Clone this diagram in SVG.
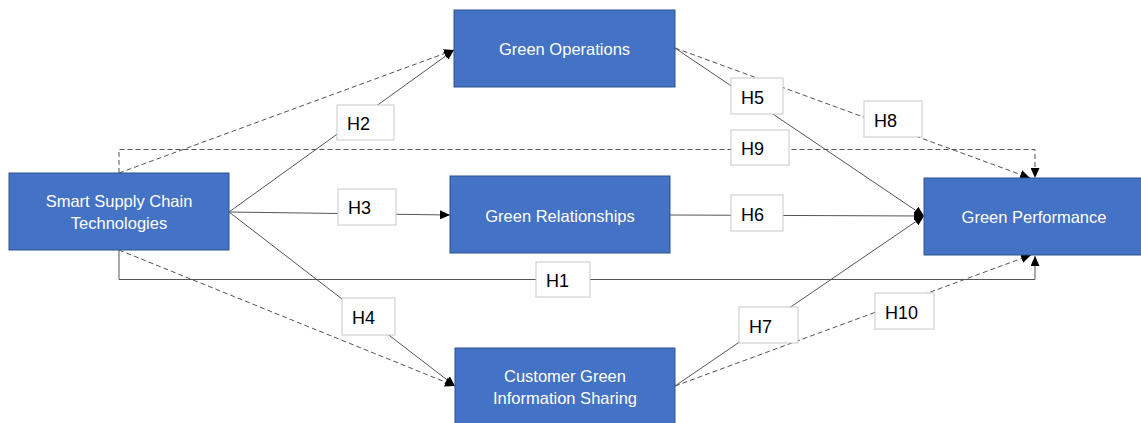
<svg xmlns="http://www.w3.org/2000/svg" width="1141" height="423" viewBox="0 0 1141 423">
  <style>
    .node rect { fill: #4472C4; stroke: #2F528F; stroke-width: 1; }
    .node text { fill: #FFFFFF; font-family: "Liberation Sans", Arial, sans-serif; font-size: 16.5px; text-anchor: middle; }
    .link { fill: none; stroke: #555555; stroke-width: 1; }
    .dash { stroke-dasharray: 5 3; }
    .tag rect { fill: #FFFFFF; stroke: #C8C8C8; stroke-width: 1; }
    .tag text { fill: #000000; font-family: "Liberation Sans", Arial, sans-serif; font-size: 18px; }
  </style>
  <defs>
    <marker id="arrow" markerUnits="userSpaceOnUse" markerWidth="11" markerHeight="9" refX="10" refY="4.5" orient="auto">
      <path d="M0,0 L10,4.5 L0,9 z" fill="#000000"/>
    </marker>
  </defs>

  <rect width="1141" height="423" fill="#FFFFFF"/>

  <!-- connectors -->
  <g id="connectors">
    <!-- H1: direct, elbow below -->
    <path class="link" d="M119,250 V279.5 H1035 V256" marker-end="url(#arrow)"/>
    <!-- H9: indirect, elbow above -->
    <path class="link dash" d="M119,173 V149.5 H1035 V178" marker-end="url(#arrow)"/>
    <!-- H2 -->
    <path class="link" d="M229,212 L454,50" marker-end="url(#arrow)"/>
    <path class="link dash" d="M119,173 L454,50" marker-end="url(#arrow)"/>
    <!-- H3 -->
    <path class="link" d="M229,212 L450,215" marker-end="url(#arrow)"/>
    <!-- H4 -->
    <path class="link" d="M229,212 L455,386" marker-end="url(#arrow)"/>
    <path class="link dash" d="M119,250 L455,386" marker-end="url(#arrow)"/>
    <!-- H5 / H8 -->
    <path class="link" d="M675,48 L924,216" marker-end="url(#arrow)"/>
    <path class="link dash" d="M675,48 L1030,178" marker-end="url(#arrow)"/>
    <!-- H6 -->
    <path class="link" d="M670,215 L924,216" marker-end="url(#arrow)"/>
    <!-- H7 / H10 -->
    <path class="link" d="M675,386 L924,216" marker-end="url(#arrow)"/>
    <path class="link dash" d="M675,386 L1031,255" marker-end="url(#arrow)"/>
  </g>

  <!-- hypothesis labels -->
  <g id="labels">
    <g class="tag" id="h1"><rect x="536" y="262" width="54" height="35"/><text x="546" y="287">H1</text></g>
    <g class="tag" id="h2"><rect x="337" y="105" width="57" height="35"/><text x="347" y="130">H2</text></g>
    <g class="tag" id="h3"><rect x="338" y="189" width="58" height="36"/><text x="348" y="214">H3</text></g>
    <g class="tag" id="h4"><rect x="342" y="298" width="53" height="37"/><text x="352" y="324">H4</text></g>
    <g class="tag" id="h5"><rect x="731" y="78" width="52" height="36"/><text x="741" y="104">H5</text></g>
    <g class="tag" id="h6"><rect x="731" y="195" width="52" height="36"/><text x="741" y="221">H6</text></g>
    <g class="tag" id="h7"><rect x="739" y="307" width="59" height="36"/><text x="749" y="333">H7</text></g>
    <g class="tag" id="h8"><rect x="864" y="101" width="58" height="36"/><text x="874" y="127">H8</text></g>
    <g class="tag" id="h9"><rect x="731" y="130" width="58" height="35"/><text x="741" y="155">H9</text></g>
    <g class="tag" id="h10"><rect x="875" y="293" width="59" height="36"/><text x="885" y="319">H10</text></g>
  </g>

  <!-- nodes -->
  <g class="node" id="smart-supply-chain">
    <rect x="9" y="173" width="220" height="77"/>
    <text x="119" y="207">Smart Supply Chain</text>
    <text x="119" y="229">Technologies</text>
  </g>
  <g class="node" id="green-operations">
    <rect x="454" y="10" width="221" height="77"/>
    <text x="564.5" y="55">Green Operations</text>
  </g>
  <g class="node" id="green-relationships">
    <rect x="450" y="176" width="220" height="77"/>
    <text x="560" y="222">Green Relationships</text>
  </g>
  <g class="node" id="customer-sharing">
    <rect x="455" y="348" width="220" height="77"/>
    <text x="565" y="382">Customer Green</text>
    <text x="565" y="404">Information Sharing</text>
  </g>
  <g class="node" id="green-performance">
    <rect x="924" y="178" width="220" height="77"/>
    <text x="1034" y="223">Green Performance</text>
  </g>
</svg>
